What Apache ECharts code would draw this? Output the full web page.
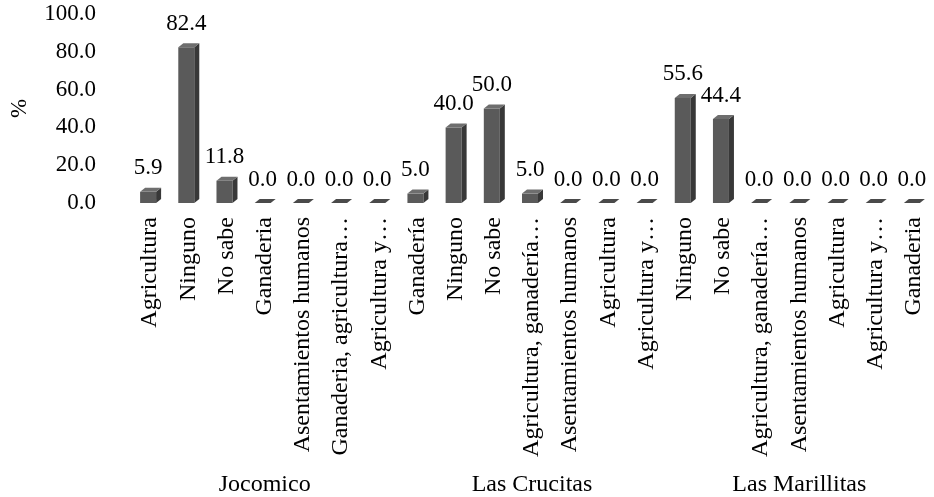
<!DOCTYPE html>
<html><head><meta charset="utf-8">
<script src="https://cdn.jsdelivr.net/npm/echarts@6/dist/echarts.min.js"></script>
<style>html,body{margin:0;padding:0;background:#fff}#c{width:934px;height:497px}</style>
</head><body><div id="c"></div>
<script>
const categories = [
  "Agricultura","Ninguno","No sabe","Ganaderia","Asentamientos humanos","Ganaderia, agricultura…","Agricultura y…",
  "Ganadería","Ninguno","No sabe","Agricultura, ganadería…","Asentamientos humanos","Agricultura","Agricultura y…",
  "Ninguno","No sabe","Agricultura, ganadería…","Asentamientos humanos","Agricultura","Agricultura y…","Ganaderia"
];
const values = [
  5.9, 82.4, 11.8, 0.0, 0.0, 0.0, 0.0,
  5.0, 40.0, 50.0, 5.0, 0.0, 0.0, 0.0,
  55.6, 44.4, 0.0, 0.0, 0.0, 0.0, 0.0
];
const groups = ["Jocomico","Las Crucitas","Las Marillitas"];
const yTicks = [0, 20, 40, 60, 80, 100];

const FONT = "'Liberation Serif','Times New Roman',serif";
const chart = echarts.init(document.getElementById('c'));
chart.setOption({
  animation: false,
  grid: {left: 121, right: 1, top: 14, bottom: 294},
  xAxis: [{
    type: 'category', data: categories,
    axisLine: {show: false}, axisTick: {show: false},
    axisLabel: {rotate: 90, interval: 0, margin: 14, fontSize: 24, fontFamily: FONT, color: '#000', hideOverlap: false}
  }, {
    type: 'category', data: groups, position: 'bottom', offset: 265,
    axisLine: {show: false}, axisTick: {show: false},
    axisLabel: {interval: 0, margin: 5, fontSize: 24, fontFamily: FONT, color: '#000'}
  }],
  yAxis: {
    type: 'value', min: yTicks[0], max: yTicks[yTicks.length-1], interval: 20,
    name: '%', nameLocation: 'middle', nameGap: 100,
    nameTextStyle: {fontSize: 23, fontFamily: FONT, color: '#000'},
    axisLine: {show: false}, axisTick: {show: false}, splitLine: {show: false},
    axisLabel: {margin: 35, fontSize: 23, fontFamily: FONT, color: '#000', formatter: v => v.toFixed(1)}
  },
  series: [{
    type: 'custom',
    data: values.map((v, i) => [i, v]),
    renderItem: function (params, api) {
      const top = api.coord([api.value(0), api.value(1)]);
      const base = api.coord([api.value(0), 0]);
      const c = base[0];
      const w = 16, dx = 5, dy = 4;
      const x0 = c - 10, x1 = x0 + w;
      const yb = base[1], yt = top[1];
      const children = [];
      if (yb - yt > 0.5) {
        children.push({type: 'rect', shape: {x: x0, y: yt, width: w, height: yb - yt}, style: {fill: '#5a5a5a'}});
        children.push({type: 'polygon', shape: {points: [[x1, yt], [x1 + dx, yt - dy], [x1 + dx, yb - dy], [x1, yb]]}, style: {fill: '#383838'}});
        children.push({type: 'polygon', shape: {points: [[x0, yt], [x0 + dx, yt - dy], [x1 + dx, yt - dy], [x1, yt]]}, style: {fill: '#6e6e6e'}});
      } else {
        children.push({type: 'polygon', shape: {points: [[x0, yb], [x0 + dx, yb - dy], [x1 + dx, yb - dy], [x1, yb]]}, style: {fill: '#4a4a4a'}});
      }
      children.push({type: 'text', style: {text: api.value(1).toFixed(1), x: c - 2, y: yt - dy - 8, align: 'center', verticalAlign: 'bottom', font: '23px ' + FONT, fill: '#000'}});
      return {type: 'group', children: children};
    }
  }]
});
</script></body></html>
